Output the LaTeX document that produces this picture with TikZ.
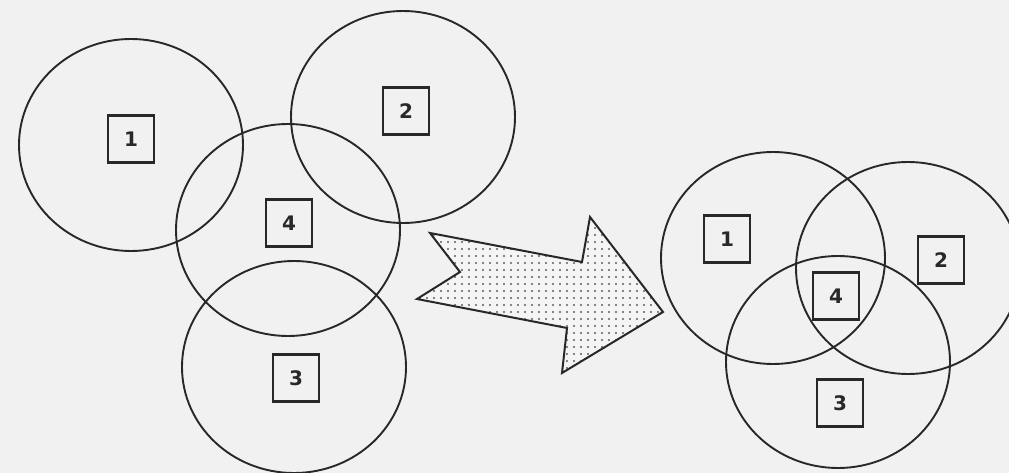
\documentclass[tikz,border=0pt]{standalone}
\usepackage{fontspec}
\newfontfamily\digitfont{DejaVu Sans}
\usetikzlibrary{shapes.geometric,patterns.meta}
\definecolor{paper}{RGB}{241,241,241}
\definecolor{ink}{RGB}{40,40,40}
\tikzset{
  ring/.style={draw=ink, line width=1.9pt, ellipse, minimum width=224pt, minimum height=212pt, inner sep=0pt},
  numbox/.style={draw=ink, line width=2.3pt, fill=paper, minimum width=46pt, minimum height=47pt, inner sep=0pt,
    font=\digitfont\bfseries\fontsize{20}{20}\selectfont, text=ink},
  bigarrow/.style={draw=ink, line width=2pt, line join=miter}
}
\begin{document}
\begin{tikzpicture}[x=1pt,y=-1pt]
\fill[paper] (0,0) rectangle (1009,473);
\useasboundingbox (0,0) rectangle (1009,473);
\clip (0,0) rectangle (1009,473);
% left group
\node[ring] (c1) at (131,145) {};
\node[ring] (c2) at (403,117) {};
\node[ring] (c4) at (288,230) {};
\node[ring] (c3) at (294,367) {};
\node[numbox] (b1) at (131,139) {1};
\node[numbox] (b2) at (406,111) {2};
\node[numbox] (b4) at (289,223) {4};
\node[numbox] (b3) at (296,378) {3};
% arrow
\coordinate (a1) at (430,233);
\coordinate (a2) at (460,272);
\coordinate (a3) at (417,299);
\coordinate (a4) at (567,328);
\coordinate (a5) at (562,373);
\coordinate (a6) at (663,312);
\coordinate (a7) at (590,217);
\coordinate (a8) at (582,262);
\fill[white!96!black] (a1) -- (a2) -- (a3) -- (a4) -- (a5) -- (a6) -- (a7) -- (a8) -- cycle;
\fill[pattern={Dots[distance=7pt, radius=1.1pt]}, pattern color=ink!75] (a1) -- (a2) -- (a3) -- (a4) -- (a5) -- (a6) -- (a7) -- (a8) -- cycle;
\draw[bigarrow] (a1) -- (a2) -- (a3) -- (a4) -- (a5) -- (a6) -- (a7) -- (a8) -- cycle;
% right group
\node[ring] (r1) at (773,258) {};
\node[ring] (r2) at (908,268) {};
\node[ring] (r3) at (838,362) {};
\node[numbox] (q1) at (727,239) {1};
\node[numbox] (q2) at (941,260) {2};
\node[numbox] (q4) at (836,296) {4};
\node[numbox] (q3) at (840,403) {3};
\end{tikzpicture}
\end{document}
